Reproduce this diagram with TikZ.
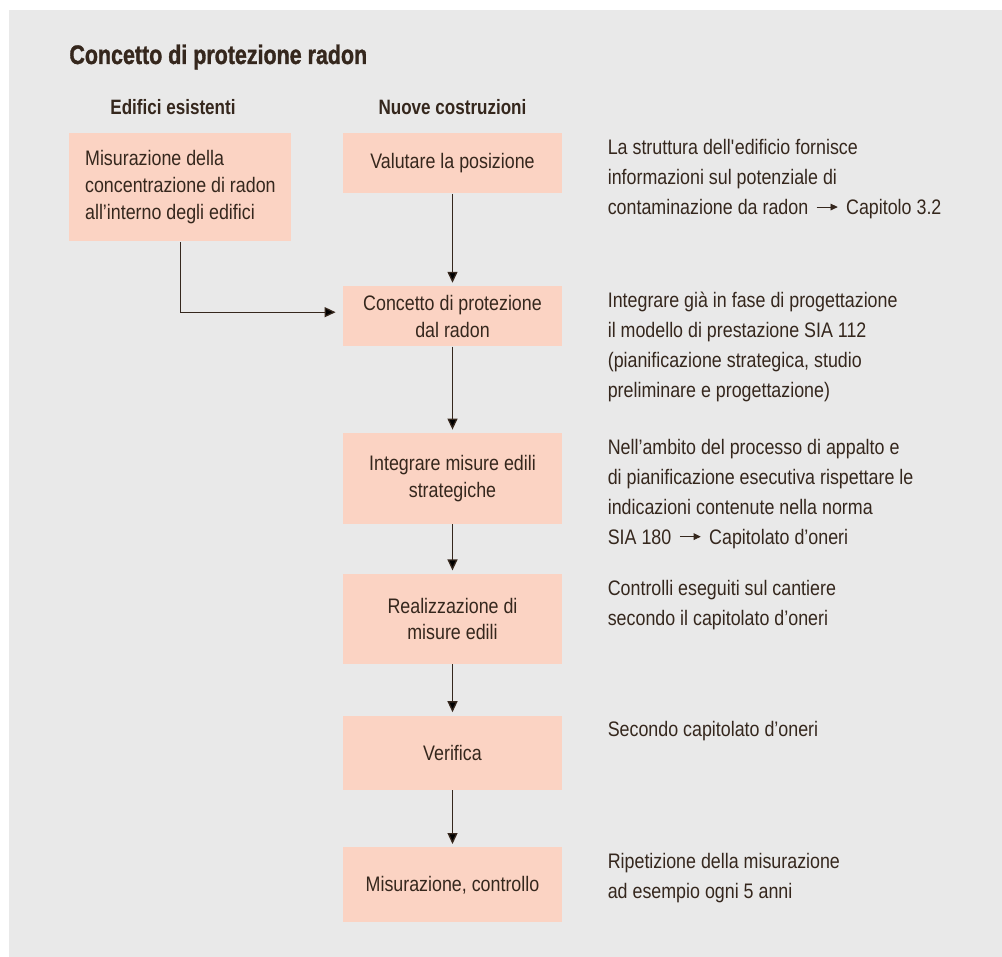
\documentclass[tikz,border=0pt]{standalone}
\usepackage{fontspec}
\setmainfont{Liberation Sans}[FakeStretch=0.85]
\newfontfamily\headfont{Liberation Sans}[FakeStretch=0.82]
\newfontfamily\titlefont{Liberation Sans Bold}[FakeStretch=0.8,FakeBold=1.2]
\usetikzlibrary{positioning,arrows.meta}
\definecolor{colorBg}{HTML}{E9E9E9}
\definecolor{colorBox}{HTML}{FBD3C3}
\definecolor{colorInk}{HTML}{35271D}
\newcommand{\toref}{\hspace{4pt}\tikz[baseline]\draw[draw=colorInk,line width=0.45pt,-{Triangle[length=3.6pt,width=3.4pt]}] (0,0.36em) -- (1em,0.36em);\hspace{4pt}}

\begin{document}
\begin{tikzpicture}[x=0.5pt,y=-0.5pt,>={Triangle[length=5.5pt,width=5pt]},every node/.append style={text=colorInk},stepbox/.style={fill=colorBox, minimum width=109.5pt, align=center, inner sep=3pt, font=\fontsize{10.5pt}{13.3pt}\selectfont},leftbox/.style={fill=colorBox, minimum width=111pt, minimum height=54pt, align=left, font=\fontsize{10.5pt}{13.5pt}\selectfont},note/.style={anchor=north west, inner sep=0pt, align=left, font=\fontsize{10.5pt}{15pt}\selectfont},colhead/.style={anchor=base, inner sep=0pt, font=\headfont\bfseries\fontsize{10.4pt}{12pt}\selectfont},link/.style={draw=colorInk, line width=0.65pt, shorten >=1.5pt},]
    \useasboundingbox (0,0) rectangle (1002,957);
    \fill[colorBg] (9,10) rectangle (1002,957);
    \node [anchor=base west, inner sep=0pt, font=\titlefont\fontsize{13.4pt}{15pt}\selectfont] (title) at (69,64) {Concetto di protezione radon};
    \node [colhead] (hEx) at (173,115) {Edifici esistenti};
    \node [colhead] (hNew) at (452.5,115) {Nuove costruzioni};
    \node [leftbox, anchor=north west] (Meas) at (69,133) {Misurazione della\\concentrazione di radon\\all’interno degli edifici};
    \node [stepbox, anchor=north, minimum height=30pt] (Pos) at (452.5,133) {Valutare la posizione};
    \node [stepbox, below=46pt of Pos, minimum height=30pt] (Conc) {Concetto di protezione\\dal radon};
    \node [stepbox, below=43pt of Conc, minimum height=45.5pt] (Integ) {Integrare misure edili\\strategiche};
    \node [stepbox, below=24.5pt of Integ, minimum height=45pt] (Real) {Realizzazione di\\misure edili};
    \node [stepbox, below=25.5pt of Real, minimum height=37pt] (Ver) {Verifica};
    \node [stepbox, below=28.5pt of Ver, minimum height=37.5pt] (Ctrl) {Misurazione, controllo};
    \node [note] (nPos) at ([xshift=22.5pt,yshift=-3pt]Pos.north east) {La struttura dell\textquotesingle edificio fornisce\\informazioni sul potenziale di\\contaminazione da radon\toref Capitolo 3.2};
    \node [note] (nConc) at ([xshift=22.5pt,yshift=-3pt]Conc.north east) {Integrare già in fase di progettazione\\il modello di prestazione SIA 112\\(pianificazione strategica, studio\\preliminare e progettazione)};
    \node [note] (nInteg) at ([xshift=22.5pt,yshift=-3pt]Integ.north east) {Nell’ambito del processo di appalto e\\di pianificazione esecutiva rispettare le\\indicazioni contenute nella norma\\SIA 180\toref Capitolato d’oneri};
    \node [note] (nReal) at ([xshift=22.5pt,yshift=-3pt]Real.north east) {Controlli eseguiti sul cantiere\\secondo il capitolato d’oneri};
    \node [note] (nVer) at ([xshift=22.5pt,yshift=-3pt]Ver.north east) {Secondo capitolato d’oneri};
    \node [note] (nCtrl) at ([xshift=22.5pt,yshift=-3pt]Ctrl.north east) {Ripetizione della misurazione\\ad esempio ogni 5 anni};
    \path[->, link] (Pos) edge (Conc);
    \path[->, link] (Conc) edge (Integ);
    \path[->, link] (Integ) edge (Real);
    \path[->, link] (Real) edge (Ver);
    \path[->, link] (Ver) edge (Ctrl);
    \draw[->, link, shorten >=3.5pt] (Meas.south) |- ([yshift=2pt]Conc.west);
\end{tikzpicture}
\end{document}
